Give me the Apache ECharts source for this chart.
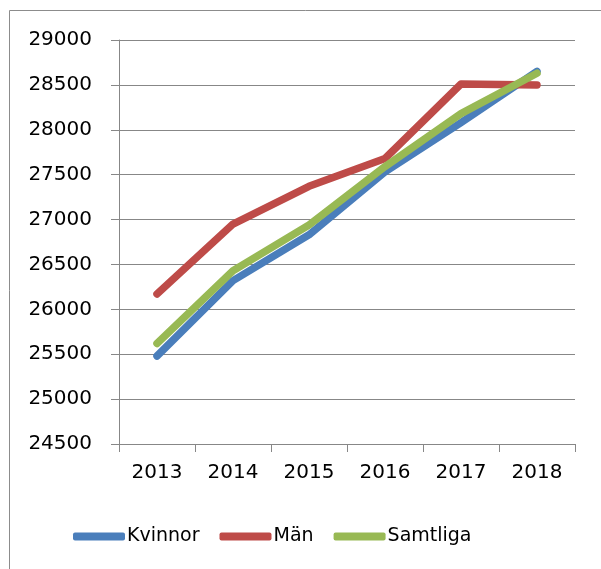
<!DOCTYPE html>
<html>
<head>
<meta charset="utf-8">
<script src="https://cdn.jsdelivr.net/npm/echarts@6/dist/echarts.min.js"></script>
<style>
  html, body { margin: 0; padding: 0; background: #fff; }
  #main { width: 601px; height: 569px; }
</style>
</head>
<body>
<div id="main"></div>
<script>
// data
var years = ['2013', '2014', '2015', '2016', '2017', '2018'];
var kvinnor = [25480, 26320, 26830, 27530, 28080, 28650];
var man = [26170, 26950, 27370, 27680, 28510, 28500];
var samtliga = [25620, 26430, 26940, 27590, 28180, 28630];

var font = 'DejaVu Sans';

function lineSeries(name, data, color) {
  return {
    name: name,
    type: 'line',
    data: data,
    showSymbol: false,
    symbol: 'none',
    lineStyle: { width: 7.5, color: color, cap: 'round', join: 'round' },
    itemStyle: { color: color }
  };
}

var chart = echarts.init(document.getElementById('main'), null, { renderer: 'canvas' });
var option = {
  animation: false,
  grid: { left: 119, right: 26, top: 40, bottom: 125 },
  graphic: [{
    type: 'rect',
    shape: { x: 9.5, y: 10.5, width: 700, height: 700 },
    style: { fill: null, stroke: '#8c8c8c', lineWidth: 1 },
    silent: true
  }],
  legend: {
    left: 68,
    top: 522,
    itemWidth: 52,
    itemHeight: 8,
    itemGap: 20,
    icon: 'roundRect',
    itemStyle: { borderWidth: 0 },
    textStyle: { fontFamily: font, fontSize: 19, color: '#000', padding: [0, 0, 0, -3] },
    data: ['Kvinnor', 'Män', 'Samtliga']
  },
  xAxis: {
    type: 'category',
    data: years,
    boundaryGap: true,
    axisLine: { lineStyle: { color: '#878787', width: 1 } },
    axisTick: { show: true, length: 8, lineStyle: { color: '#878787' } },
    axisLabel: { fontFamily: font, fontSize: 20, color: '#000', margin: 19 },
    splitLine: { show: false }
  },
  yAxis: {
    type: 'value',
    min: 24500,
    max: 29000,
    interval: 500,
    axisLine: { show: true, lineStyle: { color: '#878787', width: 1 } },
    axisTick: { show: true, length: 8, lineStyle: { color: '#878787' } },
    axisLabel: {
      fontFamily: font, fontSize: 20, color: '#000', margin: 27,
      formatter: function (v) { return String(v); }
    },
    splitLine: { show: true, lineStyle: { color: '#878787', width: 1 } }
  },
  series: [
    lineSeries('Kvinnor', kvinnor, '#4a7ebb'),
    lineSeries('Män', man, '#be4b48'),
    lineSeries('Samtliga', samtliga, '#98b954')
  ]
};
chart.setOption(option);
</script>
</body>
</html>
